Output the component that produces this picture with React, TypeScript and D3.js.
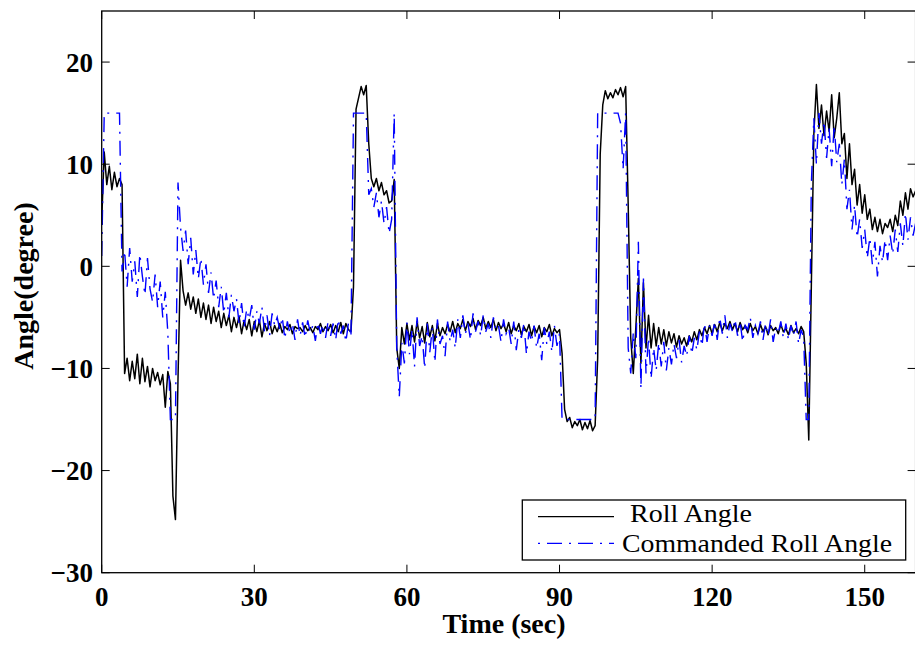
import React from "react";
import * as d3 from "d3";

// Uniformly sampled flight log, one value every SAMPLE_INTERVAL seconds (t = 0 ... 160 s)
const SAMPLE_INTERVAL = 0.5;

// Roll Angle (degree) — each row covers 5 s (10 samples)
const rollAngle: number[] = [
  4.5, 11.2, 8.0, 9.8, 7.5, 9.2, 7.8, 8.6, 8.0, -10.5, // t=0
  -9.0, -11.2, -9.3, -11.0, -8.6, -11.5, -9.0, -11.3, -9.8, -11.8, // t=5
  -10.0, -11.2, -10.4, -11.6, -10.6, -13.8, -10.3, -11.5, -22.5, -24.8, // t=10
  -11.0, 0.6, -2.4, -3.8, -2.6, -4.2, -3.0, -4.6, -3.2, -5.0, // t=15
  -3.6, -5.2, -3.8, -5.6, -4.0, -5.4, -4.4, -6.0, -4.6, -5.8, // t=20
  -4.8, -6.4, -5.0, -6.0, -4.9, -6.6, -5.3, -6.2, -5.2, -6.8, // t=25
  -5.4, -6.4, -5.3, -6.9, -5.6, -6.3, -5.4, -6.6, -5.8, -6.4, // t=30
  -5.6, -6.5, -5.9, -6.2, -5.7, -6.6, -5.9, -6.1, -6.0, -6.4, // t=35
  -5.8, -6.3, -6.0, -6.5, -5.9, -6.2, -5.6, -6.4, -5.9, -6.3, // t=40
  -5.7, -6.5, -5.8, -6.4, -5.5, -6.6, -5.6, -6.2, -6.4, -2.0, // t=45
  15.4, 16.5, 17.6, 16.8, 17.7, 12.0, 8.6, 7.8, 8.6, 7.4, // t=50
  8.2, 7.0, 7.4, 6.2, 6.4, 8.5, -8.0, -10.0, -6.0, -7.6, // t=55
  -5.6, -7.2, -5.8, -7.4, -5.4, -7.0, -5.9, -7.5, -5.5, -6.9, // t=60
  -5.8, -7.3, -5.6, -6.8, -6.0, -6.6, -5.7, -6.4, -5.4, -6.5, // t=65
  -5.6, -6.1, -5.2, -6.3, -5.4, -5.9, -5.1, -6.2, -5.3, -5.8, // t=70
  -5.0, -6.1, -5.4, -6.0, -5.2, -6.3, -5.5, -6.1, -5.6, -6.4, // t=75
  -5.5, -6.6, -5.8, -6.3, -5.6, -6.7, -5.9, -6.4, -5.7, -6.8, // t=80
  -5.9, -6.5, -5.8, -6.9, -6.0, -6.4, -5.7, -6.8, -6.1, -6.5, // t=85
  -6.2, -8.5, -14.0, -15.2, -14.8, -15.8, -15.2, -15.6, -15.0, -16.0, // t=90
  -15.3, -15.9, -15.1, -16.1, -15.6, -9.0, 11.0, 15.8, 17.2, 16.4, // t=95
  17.0, 16.5, 17.3, 16.8, 17.5, 16.6, 17.6, 6.0, -7.0, -10.5, // t=100
  -6.0, -1.2, -9.5, -1.6, -8.0, -4.8, -8.0, -5.6, -7.8, -6.0, // t=105
  -7.6, -6.2, -7.8, -6.4, -7.5, -6.6, -7.9, -6.8, -7.6, -7.0, // t=110
  -7.8, -6.8, -7.4, -6.4, -7.2, -6.2, -6.8, -6.0, -6.6, -5.8, // t=115
  -6.6, -5.7, -6.4, -5.5, -6.3, -5.6, -6.1, -5.4, -6.2, -5.6, // t=120
  -6.4, -5.5, -6.2, -5.8, -6.5, -5.6, -6.3, -5.9, -6.6, -5.7, // t=125
  -6.4, -5.9, -6.7, -5.8, -6.3, -6.0, -6.6, -5.7, -6.4, -6.1, // t=130
  -6.7, -5.8, -6.5, -6.1, -6.6, -5.9, -6.4, -9.5, -17.0, -2.0, // t=135
  13.0, 17.8, 13.5, 15.8, 12.8, 15.2, 13.2, 16.8, 12.6, 14.5, // t=140
  17.0, 12.0, 13.0, 8.6, 12.0, 8.0, 9.5, 6.0, 8.0, 5.2, // t=145
  7.0, 4.6, 5.6, 3.6, 4.8, 3.4, 4.6, 3.2, 4.2, 3.8, // t=150
  4.6, 3.4, 5.0, 4.0, 6.4, 5.0, 7.2, 5.6, 7.6, 6.8, // t=155
  7.4, // t=160
];

// Commanded Roll Angle (degree)
const commandedRollAngle: number[] = [
  1.0, 15.0, 15.0, 15.0, 15.0, 15.0, 15.0, 15.0, -0.5, 1.5, // t=0
  -2.0, 1.8, -1.5, 0.5, -3.0, 1.2, -1.0, -2.8, 0.8, -2.2, // t=5
  -3.5, -0.8, -4.0, -1.5, -5.0, -2.5, -6.5, -15.0, -15.0, -15.0, // t=10
  8.2, 3.8, 1.5, 3.5, 0.2, 2.8, -0.8, 1.6, -1.2, 0.8, // t=15
  -1.8, 0.2, -2.6, -0.6, -3.2, -1.4, -4.0, -2.0, -4.6, -2.6, // t=20
  -5.0, -2.8, -4.4, -3.2, -5.6, -3.6, -6.0, -4.2, -5.2, -3.8, // t=25
  -6.2, -4.4, -5.6, -4.0, -6.4, -4.8, -6.8, -4.6, -5.8, -5.0, // t=30
  -6.2, -5.0, -7.1, -5.4, -6.6, -5.6, -7.2, -5.2, -6.8, -5.5, // t=35
  -7.0, -5.3, -6.5, -5.8, -7.3, -5.5, -6.6, -5.7, -7.0, -5.4, // t=40
  -6.8, -5.6, -7.2, -5.2, -6.6, -5.8, -7.4, -5.6, -6.9, 15.0, // t=45
  15.0, 15.0, 15.0, 15.0, 15.0, 7.0, 7.6, 5.8, 7.2, 4.8, // t=50
  6.4, 4.2, 5.8, 3.2, 4.6, 15.0, -8.0, -12.8, -7.5, -9.5, // t=55
  -5.5, -8.6, -6.2, -9.8, -5.0, -7.8, -6.8, -10.0, -5.6, -8.4, // t=60
  -6.0, -9.4, -5.2, -7.6, -6.8, -8.8, -5.4, -7.4, -6.2, -8.0, // t=65
  -5.2, -7.0, -4.8, -6.6, -5.6, -7.2, -4.6, -6.4, -5.4, -6.8, // t=70
  -4.8, -6.4, -5.6, -7.0, -5.0, -6.2, -5.8, -7.4, -5.2, -6.6, // t=75
  -6.0, -7.6, -5.4, -8.2, -6.2, -7.0, -5.6, -8.6, -6.4, -7.4, // t=80
  -5.8, -8.0, -6.6, -9.2, -6.0, -7.6, -6.4, -8.4, -5.8, -7.8, // t=85
  -6.6, -15.0, -15.0, -15.0, -15.0, -15.0, -15.0, -15.0, -15.0, -15.0, // t=90
  -15.0, -15.0, -15.0, -15.0, -15.0, 15.0, 15.0, 15.0, 15.0, 15.0, // t=95
  15.0, 15.0, 15.0, 15.0, 14.0, 9.5, 15.0, -8.0, -10.5, -6.5, // t=100
  -9.0, 2.4, -12.0, -1.2, -10.5, -7.0, -11.0, -8.0, -10.2, -7.5, // t=105
  -9.8, -7.4, -10.2, -8.0, -9.6, -7.6, -9.0, -7.2, -9.4, -7.8, // t=110
  -8.8, -6.8, -8.6, -7.0, -8.2, -6.4, -7.8, -5.6, -7.4, -5.8, // t=115
  -6.8, -5.4, -7.2, -5.0, -6.6, -4.8, -7.0, -5.6, -6.4, -5.2, // t=120
  -6.8, -5.4, -7.4, -5.8, -6.2, -5.0, -7.0, -5.8, -6.6, -5.4, // t=125
  -7.2, -5.6, -6.8, -5.2, -7.4, -6.0, -6.6, -5.4, -7.0, -5.6, // t=130
  -7.2, -5.8, -6.8, -5.4, -7.6, -6.2, -7.0, -15.0, -15.0, 8.0, // t=135
  14.5, 10.0, 15.0, 12.0, 14.2, 10.6, 13.5, 9.8, 13.8, 10.2, // t=140
  12.0, 8.0, 10.5, 5.6, 7.5, 3.6, 6.0, 2.8, 4.6, 1.8, // t=145
  3.6, 0.8, 2.8, 0.2, 2.4, -1.0, 2.0, 0.4, 2.6, 0.6, // t=150
  3.0, 1.2, 3.6, 1.4, 4.2, 2.0, 5.2, 2.6, 4.8, 3.0, // t=155
  4.2, // t=160
];

const xTicks = [0, 30, 60, 90, 120, 150];
const yTicks = [-30, -20, -10, 0, 10, 20];
const xDomain: [number, number] = [0, 160];
const yDomain: [number, number] = [-30, 25];
const legendLabels = ["Roll Angle", "Commanded Roll Angle"];
const xLabel = "Time (sec)";
const yLabel = "Angle(degree)";

const fmt = (v: number) => (v < 0 ? "\u2212" + Math.abs(v) : String(v));

export default function App() {
  const W = 915;
  const H = 649;
  const left = 101.7;
  const right = 915.6;
  const top = 11;
  const bottom = 572.7;
  const tickLen = 8;

  const x = d3.scaleLinear().domain(xDomain).range([left, right]);
  const y = d3.scaleLinear().domain(yDomain).range([bottom, top]);
  const line = d3
    .line<number>()
    .x((_, i) => x(i * SAMPLE_INTERVAL))
    .y((d) => y(d));

  const tickFont = {
    fontFamily: "'Liberation Serif', 'Times New Roman', serif",
    fontWeight: 700,
    fontSize: 27,
  } as const;

  const legX = 522.3;
  const legY = 500;
  const legW = 383.4;
  const legH = 60;

  return (
    <svg
      width={W}
      height={H}
      style={{ position: "absolute", left: 0, top: 0, background: "#fff" }}
    >
      <defs>
        <clipPath id="plotClip">
          <rect x={left} y={top} width={right - left} height={bottom - top} />
        </clipPath>
      </defs>
      <rect x={0} y={0} width={W} height={H} fill="#fff" />

      <g clipPath="url(#plotClip)">
        <path
          d={line(rollAngle) || ""}
          fill="none"
          stroke="#000"
          strokeWidth={1.5}
          strokeLinejoin="round"
        />
        <path
          d={line(commandedRollAngle) || ""}
          fill="none"
          stroke="#0000ff"
          strokeWidth={1.4}
          strokeDasharray="15,7,2,7"
        />
      </g>

      {/* frame */}
      <rect
        x={left}
        y={top}
        width={right - left}
        height={bottom - top}
        fill="none"
        stroke="#000"
        strokeWidth={1.3}
      />

      {/* x ticks */}
      {xTicks.map((t) => (
        <g key={"x" + t}>
          <line x1={x(t)} x2={x(t)} y1={bottom} y2={bottom - tickLen} stroke="#000" strokeWidth={1} />
          <line x1={x(t)} x2={x(t)} y1={top} y2={top + tickLen} stroke="#000" strokeWidth={1} />
          <text x={x(t)} y={606} textAnchor="middle" {...tickFont}>
            {fmt(t)}
          </text>
        </g>
      ))}

      {/* y ticks */}
      {yTicks.map((v) => (
        <g key={"y" + v}>
          <line x1={left} x2={left + tickLen} y1={y(v)} y2={y(v)} stroke="#000" strokeWidth={1} />
          <line x1={right} x2={right - tickLen} y1={y(v)} y2={y(v)} stroke="#000" strokeWidth={1} />
          <text x={93} y={y(v) + 9.5} textAnchor="end" {...tickFont}>
            {fmt(v)}
          </text>
        </g>
      ))}

      {/* axis labels */}
      <text x={504} y={633} textAnchor="middle" {...tickFont} fontSize={28}>
        {xLabel}
      </text>
      <text
        transform={`translate(32.5,286) rotate(-90)`}
        textAnchor="middle"
        {...tickFont}
        fontSize={28}
      >
        {yLabel}
      </text>

      {/* legend */}
      <rect x={legX} y={legY} width={legW} height={legH} fill="#fff" stroke="#000" strokeWidth={1.3} />
      <line x1={538} x2={614} y1={516.7} y2={516.7} stroke="#000" strokeWidth={1.3} />
      <line
        x1={538}
        x2={614}
        y1={543.3}
        y2={543.3}
        stroke="#0000ff"
        strokeWidth={1.3}
        strokeDasharray="2,7,15,7"
      />
      <text
        x={630}
        y={522}
        fontFamily="'Liberation Serif', 'Times New Roman', serif"
        fontSize={25}
        textLength={122}
        lengthAdjust="spacingAndGlyphs"
      >
        {legendLabels[0]}
      </text>
      <text
        x={622}
        y={552}
        fontFamily="'Liberation Serif', 'Times New Roman', serif"
        fontSize={25}
        textLength={270}
        lengthAdjust="spacingAndGlyphs"
      >
        {legendLabels[1]}
      </text>
    </svg>
  );
}
